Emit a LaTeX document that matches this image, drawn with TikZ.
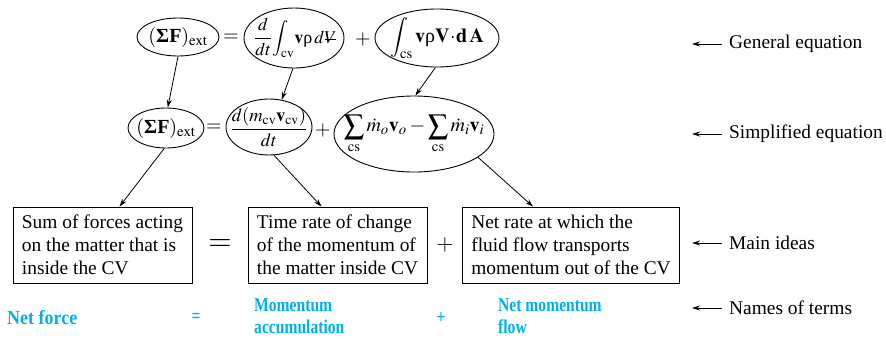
\documentclass[tikz,border=0pt]{standalone}
\usepackage{amsmath}
\usepackage{mathptmx}
\usepackage{fontspec}
\setmainfont{Liberation Serif}
\newfontfamily\bluefont[FakeStretch=0.8]{Liberation Serif Bold}
\newfontfamily\bluewidefont[FakeStretch=0.9]{Liberation Serif Bold}
\usetikzlibrary{shapes.geometric,arrows.meta}
\definecolor{termblue}{RGB}{0,174,239}
\newcommand{\Vbar}{\mbox{\rlap{$V$}\kern0.05em\raisebox{0.33ex}{\rule{0.6em}{0.06em}}}}
\newcommand{\rhoup}{\text{ρ}}
\tikzset{
 ell/.style={draw, ellipse, inner sep=0pt, line width=0.9pt},
 eqtxt/.style={inner sep=0pt, font=\fontsize{20}{24}\selectfont},
 boxnode/.style={draw, line width=0.9pt, align=left, inner xsep=9pt, minimum height=76pt, font=\fontsize{19.4}{23}\selectfont},
 con/.style={-{Stealth[length=8pt,width=5pt]}, line width=0.8pt},
 lbl/.style={anchor=west, inner sep=0pt, font=\fontsize{19.4}{23}\selectfont},
 term/.style={anchor=west, inner sep=0pt, align=left, text=termblue, font=\bluefont\fontsize{19.5}{22}\selectfont},
 termop/.style={inner sep=0pt, text=termblue, font=\bluefont\fontsize{19.5}{22}\selectfont},
}
\begin{document}
\begin{tikzpicture}[x=1pt,y=-1pt]
\useasboundingbox (0,0) rectangle (886,341);
% row 1: general equation
\node[ell, minimum width=82pt, minimum height=38pt] (e1) at (178,37) {};
\node[eqtxt] (e1t) at (e1) {$(\text{\textbf{ΣF}})_{\mathrm{ext}}$};
\node[eqtxt] (eq1) at (231,38) {$=$};
\node[ell, minimum width=100pt, minimum height=60pt] (e2) at (294,38) {};
\node[eqtxt, font=\fontsize{18}{22}\selectfont] (e2t) at ([xshift=1pt]e2.center) {$\dfrac{d}{dt}\!\displaystyle\int_{\mathrm{cv}}\!\mathbf{v}\rhoup\,d\Vbar$};
\node[eqtxt] (pl1) at (363,40) {$+$};
\node[ell, minimum width=124pt, minimum height=58pt] (e3) at (437,38) {};
\node[eqtxt] (e3t) at (e3) {$\displaystyle\int_{\mathrm{cs}}\mathbf{v}\rhoup\mathbf{V}\!\cdot\!\mathbf{d\,A}$};
% row 2: simplified equation
\node[ell, minimum width=76pt, minimum height=40pt] (f1) at (166,128) {};
\node[eqtxt] (f1t) at (f1) {$(\text{\textbf{ΣF}})_{\mathrm{ext}}$};
\node[eqtxt] (eq2) at (214,128) {$=$};
\node[ell, minimum width=86pt, minimum height=56pt] (f2) at (269,127) {};
\node[eqtxt, font=\fontsize{18.5}{22}\selectfont] (f2t) at (f2) {$\dfrac{d(m_{\mathrm{cv}}\mathbf{v}_{\mathrm{cv}})}{dt}$};
\node[eqtxt] (pl2) at (323,130) {$+$};
\node[ell, minimum width=160pt, minimum height=76pt] (f3) at (414,134) {};
\node[eqtxt] (f3t) at (f3) {$\displaystyle\sum_{\mathrm{cs}}\dot m_o\mathbf{v}_o-\sum_{\mathrm{cs}}\dot m_i\mathbf{v}_i$};
% row 3: main ideas
\node[boxnode] (b1) at (102.5,245) {Sum of forces acting\\on the matter that is\\inside the CV};
\node[inner sep=0pt, font=\fontsize{30}{30}\selectfont] (eq3) at (220,245) {$=$};
\node[boxnode] (b2) at (337.5,245) {Time rate of change\\of the momentum of\\the matter inside CV};
\node[inner sep=0pt, font=\fontsize{22}{24}\selectfont] (pl3) at (445,245) {$+$};
\node[boxnode] (b3) at (571,245) {Net rate at which the\\fluid flow transports\\momentum out of the CV};
% row 4: names of terms
\node[term, font=\bluewidefont\fontsize{20}{22}\selectfont] (n1) at (7,318) {Net force};
\node[termop] (eq4) at (196,318) {=};
\node[term] (n2) at (254,316) {Momentum\\accumulation};
\node[termop] (pl4) at (441,318) {+};
\node[term] (n3) at (498,316) {Net momentum\\flow};
% connectors
\draw[con] (e1.-90) -- (f1.85);
\draw[con] (e2.-92) -- (f2.65);
\draw[con] (e3.-93) -- (f3.88);
\draw[con] (f1.-95) -- ([xshift=17pt]b1.north);
\draw[con] (f2.-80) -- ([xshift=-16pt]b2.north);
\draw[con] (f3.-20) -- ([xshift=-38pt]b3.north);
% right labels
\node[lbl] (l1) at (729,44) {General equation};
\node[lbl] (l2) at (729,134) {Simplified equation};
\node[lbl] (l3) at (729,243) {Main ideas};
\node[lbl] (l4) at (729,308) {Names of terms};
\coordinate (a1) at (692,44);
\coordinate (a2) at (692,134);
\coordinate (a3) at (692,243);
\coordinate (a4) at (692,308);
\draw[con] ([xshift=-7pt]l1.west) -- (a1);
\draw[con] ([xshift=-7pt]l2.west) -- (a2);
\draw[con] ([xshift=-7pt]l3.west) -- (a3);
\draw[con] ([xshift=-7pt]l4.west) -- (a4);
\end{tikzpicture}
\end{document}
